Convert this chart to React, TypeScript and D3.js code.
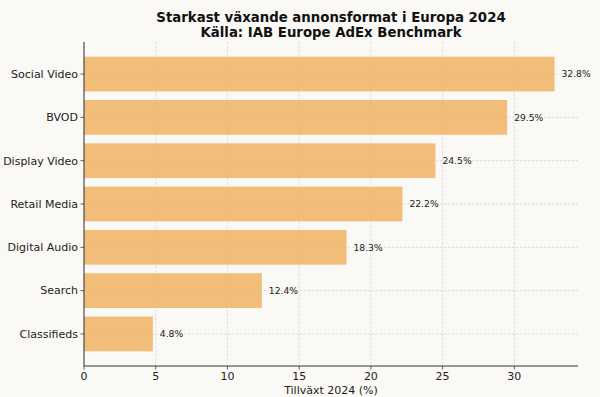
import React from "react";
import * as d3 from "d3";

const categories = ["Social Video", "BVOD", "Display Video", "Retail Media", "Digital Audio", "Search", "Classifieds"];
const growth = [32.8, 29.5, 24.5, 22.2, 18.3, 12.4, 4.8];
const xTicks = [0, 5, 10, 15, 20, 25, 30];
const titleLines = ["Starkast växande annonsformat i Europa 2024", "Källa: IAB Europe AdEx Benchmark"];
const xLabel = "Tillväxt 2024 (%)";

const W = 600, H = 397;
const left = 84, right = 578, top = 42, bottom = 366;
const font = "DejaVu Sans, sans-serif";

export default function App() {
  const n = categories.length;
  const x = d3.scaleLinear().domain([0, d3.max(growth)! * 1.05]).range([left, right]);
  const y = d3.scaleLinear().domain([-0.74, n - 1 + 0.74]).range([top, bottom]);
  const bh = y(0.4) - y(-0.4);
  return (
    <svg width={W} height={H} style={{ position: "absolute", left: 0, top: 0, background: "#faf9f5" }}>
      <rect x={0} y={0} width={W} height={H} fill="#faf9f5" />
      {xTicks.map((t) => (
        <line key={"gx" + t} x1={x(t)} x2={x(t)} y1={top} y2={bottom} stroke="#d6d6d6" strokeWidth={0.8} strokeDasharray="2.5,1.5" />
      ))}
      {categories.map((c, i) => (
        <line key={"gy" + i} x1={left} x2={right} y1={y(i)} y2={y(i)} stroke="#d6d6d6" strokeWidth={0.8} strokeDasharray="2.5,1.5" />
      ))}
      {categories.map((c, i) => (
        <rect key={"b" + i} x={x(0)} y={y(i) - bh / 2} width={x(growth[i]) - x(0)} height={bh} fill="#f0b66a" opacity={0.9} />
      ))}
      {categories.map((c, i) => (
        <text key={"v" + i} x={x(growth[i]) + 7} y={y(i)} dy="0.35em" fontSize={9.2} fontFamily={font} fill="#222">
          {growth[i].toFixed(1)}%
        </text>
      ))}
      <line x1={left} x2={left} y1={top} y2={bottom} stroke="#333" strokeWidth={1} />
      <line x1={left} x2={right} y1={bottom} y2={bottom} stroke="#333" strokeWidth={1} />
      {categories.map((c, i) => (
        <g key={"yt" + i}>
          <line x1={left - 3.5} x2={left} y1={y(i)} y2={y(i)} stroke="#333" strokeWidth={0.8} />
          <text x={left - 6} y={y(i)} dy="0.35em" textAnchor="end" fontSize={11} fontFamily={font} fill="#222">{c}</text>
        </g>
      ))}
      {xTicks.map((t) => (
        <g key={"xt" + t}>
          <line x1={x(t)} x2={x(t)} y1={bottom} y2={bottom + 3.5} stroke="#333" strokeWidth={0.8} />
          <text x={x(t)} y={bottom + 14} textAnchor="middle" fontSize={11} fontFamily={font} fill="#222">{t}</text>
        </g>
      ))}
      <text x={(left + right) / 2} y={bottom + 28} textAnchor="middle" fontSize={11} fontFamily={font} fill="#222">{xLabel}</text>
      {titleLines.map((l, i) => (
        <text key={"t" + i} x={(left + right) / 2} y={21.5 + i * 15} textAnchor="middle" fontSize={13.3} fontWeight="bold" fontFamily={font} fill="#111">{l}</text>
      ))}
    </svg>
  );
}
